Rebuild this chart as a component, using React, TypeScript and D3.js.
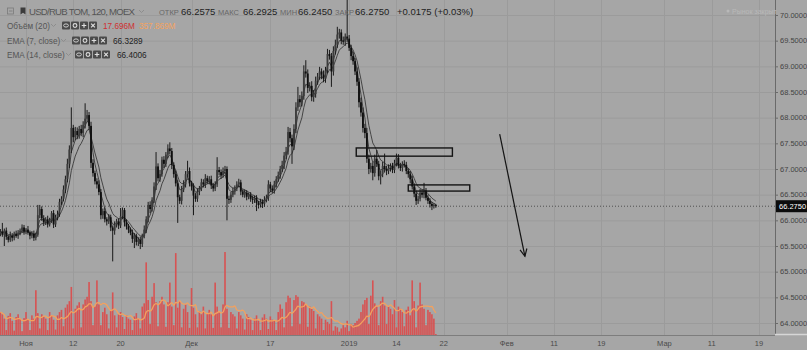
import React from "react";
import * as d3 from "d3";

const W = 807;
const H = 350;

// ---- price data (one bar = quarter of a trading day) ----
const firstOpen = 65.74;
const startDay = -3.25;
const barStep = 0.25;

const closes = [
  65.78, 65.72, 65.80, 65.68, 65.62, 65.70, 65.66, 65.74, 65.70, 65.76,
  65.80, 65.86, 65.78, 65.82, 65.76, 65.70, 65.74, 65.66, 65.72, 66.10,
  66.22, 66.04, 65.96, 66.02, 65.92, 66.00, 66.14, 65.92, 66.06, 66.12,
  66.36, 66.42, 66.60, 66.80, 67.10, 67.38, 67.80, 67.62, 67.74, 67.66,
  67.78, 67.70, 67.86, 67.98, 68.05, 67.84, 67.12, 66.92, 66.76, 66.70,
  66.55, 66.10, 66.18, 66.02, 65.98, 66.06, 65.86, 65.80, 65.92, 65.98,
  65.90, 66.08, 66.20, 65.96, 65.88, 65.82, 65.76, 65.64, 65.70, 65.58,
  65.62, 65.54, 65.70, 65.82, 66.02, 66.30, 66.22, 66.40, 66.66, 67.05,
  66.82, 66.90, 67.18, 67.10, 67.28, 67.40, 67.35, 67.08, 66.90, 66.72,
  66.45, 66.38, 66.60, 66.70, 66.90, 66.96, 66.72, 66.66, 66.48, 66.42,
  66.56, 66.62, 66.74, 66.70, 66.82, 66.76, 66.80, 66.68, 66.62, 66.70,
  66.98, 66.94, 66.88, 66.96, 67.00, 66.42, 66.40, 66.50, 66.56, 66.62,
  66.70, 66.74, 66.56, 66.50, 66.54, 66.46, 66.50, 66.42, 66.40, 66.44,
  66.34, 66.30, 66.36, 66.32, 66.40, 66.44, 66.70, 66.62, 66.58, 66.70,
  66.80, 66.88, 67.00, 67.08, 67.26, 67.34, 67.72, 67.60, 67.44, 67.78,
  68.20, 68.36, 68.30, 68.42, 68.90, 68.86, 68.58, 68.62, 68.40, 68.46,
  68.72, 68.80, 68.90, 68.84, 68.76, 68.92, 69.24, 69.20, 68.90, 69.30,
  69.42, 69.62, 69.66, 69.50, 69.48, 69.58, 69.54, 69.36, 69.20, 69.10,
  68.90, 68.70, 68.30, 68.10, 67.80, 67.70, 67.20, 67.00, 67.06, 66.92,
  67.20, 67.10, 66.86, 66.90, 67.06, 67.00, 66.96, 67.02, 67.06, 66.98,
  67.12, 67.22, 67.06, 67.02, 67.10, 67.08, 66.96, 66.90, 66.80, 66.66,
  66.52, 66.38, 66.42, 66.54, 66.50, 66.58, 66.44, 66.38, 66.32, 66.28, 66.30, 66.275,
];

const wickUp = [
  0.05, 0.17, 0.04, 0.06, 0.03, 0.08, 0.05, 0.04, 0.06, 0.05,
  0.04, 0.06, 0.05, 0.03, 0.07, 0.04, 0.05, 0.06, 0.04, 0.20,
  0.08, 0.05, 0.06, 0.04, 0.07, 0.05, 0.04, 0.06, 0.05, 0.07,
  0.06, 0.05, 0.08, 0.07, 0.10, 0.08, 0.40, 0.06, 0.08, 0.07,
  0.06, 0.08, 0.07, 0.30, 0.10, 0.06, 0.08, 0.07, 0.05, 0.06,
  0.08, 0.06, 0.05, 0.07, 0.04, 0.06, 0.05, 0.04, 0.06, 0.05,
  0.06, 0.16, 0.05, 0.04, 0.06, 0.05, 0.04, 0.06, 0.05, 0.04,
  0.05, 0.06, 0.04, 0.08, 0.06, 0.06, 0.07, 0.05, 0.08, 0.28,
  0.06, 0.08, 0.06, 0.07, 0.05, 0.08, 0.12, 0.06, 0.05, 0.07,
  0.06, 0.05, 0.07, 0.08, 0.06, 0.20, 0.07, 0.05, 0.06, 0.05,
  0.06, 0.05, 0.07, 0.06, 0.08, 0.05, 0.06, 0.07, 0.05, 0.06,
  0.25, 0.06, 0.05, 0.07, 0.06, 0.05, 0.06, 0.05, 0.07, 0.06,
  0.06, 0.07, 0.05, 0.04, 0.06, 0.05, 0.04, 0.05, 0.06, 0.04,
  0.05, 0.04, 0.06, 0.05, 0.07, 0.06, 0.08, 0.05, 0.06, 0.07,
  0.06, 0.07, 0.06, 0.08, 0.07, 0.09, 0.10, 0.08, 0.07, 0.09,
  0.10, 0.24, 0.08, 0.09, 0.12, 0.22, 0.08, 0.07, 0.09, 0.08,
  0.08, 0.07, 0.09, 0.06, 0.08, 0.07, 0.10, 0.08, 0.06, 0.09,
  0.10, 0.15, 0.07, 0.06, 0.08, 0.06, 1.00, 0.07, 0.06, 0.08,
  0.06, 0.08, 0.07, 0.09, 0.10, 0.08, 0.10, 0.08, 0.06, 0.07,
  0.08, 0.17, 0.06, 0.07, 0.08, 0.24, 0.06, 0.07, 0.05, 0.06,
  0.06, 0.08, 0.07, 0.06, 0.05, 0.07, 0.06, 0.05, 0.06, 0.07,
  0.06, 0.05, 0.06, 0.07, 0.06, 0.15, 0.05, 0.06, 0.05, 0.04, 0.03, 0.02,
];

const wickDown = [
  0.05, 0.04, 0.22, 0.06, 0.05, 0.04, 0.07, 0.05, 0.04, 0.06,
  0.05, 0.04, 0.06, 0.05, 0.04, 0.07, 0.05, 0.06, 0.05, 0.04,
  0.06, 0.05, 0.07, 0.05, 0.06, 0.04, 0.05, 0.07, 0.05, 0.06,
  0.05, 0.06, 0.05, 0.07, 0.06, 0.08, 0.07, 0.10, 0.06, 0.08,
  0.07, 0.06, 0.08, 0.07, 0.06, 0.08, 0.10, 0.07, 0.06, 0.08,
  0.06, 0.08, 0.07, 0.06, 0.08, 0.05, 0.07, 0.60, 0.08, 0.06,
  0.07, 0.05, 0.06, 0.08, 0.06, 0.07, 0.05, 0.08, 0.18, 0.07,
  0.08, 0.10, 0.06, 0.05, 0.07, 0.06, 0.08, 0.05, 0.06, 0.07,
  0.06, 0.07, 0.05, 0.08, 0.06, 0.07, 0.06, 0.08, 0.07, 0.06,
  0.50, 0.06, 0.07, 0.05, 0.06, 0.07, 0.06, 0.08, 0.38, 0.06,
  0.06, 0.07, 0.05, 0.06, 0.07, 0.05, 0.06, 0.07, 0.06, 0.05,
  0.05, 0.06, 0.07, 0.05, 0.06, 0.42, 0.08, 0.06, 0.05, 0.06,
  0.05, 0.06, 0.07, 0.05, 0.06, 0.07, 0.05, 0.06, 0.08, 0.06,
  0.16, 0.07, 0.05, 0.08, 0.06, 0.05, 0.06, 0.07, 0.05, 0.06,
  0.06, 0.05, 0.07, 0.06, 0.08, 0.07, 0.06, 0.08, 0.34, 0.07,
  0.08, 0.07, 0.09, 0.08, 0.07, 0.08, 0.10, 0.07, 0.08, 0.09,
  0.07, 0.08, 0.06, 0.09, 0.07, 0.08, 0.06, 0.07, 0.30, 0.08,
  0.07, 0.06, 0.08, 0.07, 0.06, 0.08, 0.07, 0.06, 0.08, 0.07,
  0.07, 0.08, 0.10, 0.08, 0.09, 0.10, 0.08, 0.10, 0.07, 0.14,
  0.07, 0.06, 0.08, 0.16, 0.06, 0.07, 0.08, 0.06, 0.07, 0.06,
  0.06, 0.07, 0.05, 0.06, 0.07, 0.05, 0.06, 0.07, 0.08, 0.06,
  0.07, 0.08, 0.06, 0.05, 0.06, 0.07, 0.05, 0.06, 0.07, 0.08, 0.05, 0.03,
];

// volume in millions
const volumes = [
  420, 380, 300, 90, 350, 400, 260, 80, 330, 380,
  300, 70, 310, 420, 280, 90, 360, 300, 820, 400,
  120, 380, 340, 300, 90, 420, 360, 280, 100, 360,
  420, 460, 160, 500, 560, 620, 880, 120, 480, 540,
  600, 140, 560, 650, 700, 970, 620, 180, 520, 1000,
  560, 180, 420, 500, 380, 120, 440, 780, 360, 140,
  380, 420, 330, 110, 360, 300, 280, 90, 340, 400,
  300, 120, 520, 580, 1330, 640, 200, 700, 950, 600,
  160, 620, 700, 560, 150, 600, 960, 520, 180, 1500,
  500, 620, 140, 480, 560, 420, 130, 860, 500, 380,
  140, 440, 380, 520, 120, 400, 460, 380, 130, 960,
  520, 420, 140, 560, 1520, 480, 130, 420, 380, 340,
  120, 420, 360, 300, 100, 380, 330, 280, 90, 300,
  360, 260, 90, 320, 380, 300, 110, 340, 280, 260,
  90, 420, 560, 480, 140, 600, 720, 680, 160, 640,
  730, 700, 200, 620, 600, 560, 150, 520, 480, 440,
  120, 380, 340, 300, 90, 280, 240, 200, 620, 80,
  160, 140, 60, 120, 180, 140, 260, 70, 200, 180,
  220, 260, 300, 420, 560, 640, 680, 200, 720, 1000,
  580, 520, 180, 620, 700, 540, 200, 520, 480, 380,
  640, 140, 520, 480, 420, 160, 460, 520, 360, 1000,
  620, 140, 540, 960, 560, 480, 180, 460, 420, 380, 300, 17.696,
];

// indicator settings (periods on 2h bars; one bar here = 1.75 of them)
const barsPerSourceBar = 1.75;
const emaFastPeriod = 7;
const emaSlowPeriod = 14;
const volMaPeriod = 20;

// axes
const priceTicks = [64, 64.5, 65, 65.5, 66, 66.5, 67, 67.5, 68, 68.5, 69, 69.5, 70];
const dateTickDays = [0, 6, 12, 21, 31, 41, 47, 53, 61, 67, 73, 81, 87, 93];
const dateTickLabels = ["Ноя", "12", "20", "Дек", "17", "2019", "14", "22", "Фев", "11", "19", "Мар", "11", "19"];
const lastPrice = 66.275;

// drawings
const zoneDays0 = [41.9, 48.5];
const zoneDays1 = [54.1, 56.3];
const zoneTop = [67.41, 66.69];
const zoneBottom = [67.25, 66.57];
const arrowDays = [60.1, 63.3];
const arrowPrices = [67.68, 65.3];

// legend
const symbolTitle = "USD/RUB TOM, 120, MOEX";
const headerLabels = ["ОТКР", "МАКС", "МИН", "ЗАКР"];
const headerValues = ["66.2575", "66.2925", "66.2450", "66.2750"];
const headerChange = "+0.0175 (+0.03%)";
const volumeLegendValues = ["17.696M", "357.869M"];
const emaLegendValues = ["66.3289", "66.4006"];

const BG = "#a6a6a6";
const GRID = "#9b9b9b";

function ema(values: number[], period: number) {
  const a = 2 / (period + 1);
  const out: number[] = [];
  values.forEach((v, i) => out.push(i === 0 ? v : a * v + (1 - a) * out[i - 1]));
  return out;
}
function sma(values: number[], period: number) {
  return values.map((_, i) => {
    const s = values.slice(Math.max(0, i - period + 1), i + 1);
    return d3.mean(s) as number;
  });
}

function Icons({ x, y }: { x: number; y: number }) {
  const s = 8;
  const gap = 9;
  return (
    <g>
      {[0, 1, 2, 3].map((k) => {
        const x0 = x + k * gap;
        const cx = x0 + s / 2;
        const cy = y + s / 2;
        return (
          <g key={k}>
            <rect x={x0} y={y} width={s} height={s} rx={1} fill="#4a4a4a" />
            {k === 0 && <ellipse cx={cx} cy={cy} rx={2.4} ry={1.6} fill="none" stroke="#ddd" strokeWidth={0.9} />}
            {k === 1 && <circle cx={cx} cy={cy} r={1.9} fill="none" stroke="#ddd" strokeWidth={1.1} />}
            {k === 2 && (
              <path d={`M${cx - 2.3},${cy}H${cx + 2.3}M${cx},${cy - 2.3}V${cy + 2.3}`} stroke="#ddd" strokeWidth={1.2} />
            )}
            {k === 3 && (
              <path d={`M${cx - 1.9},${cy - 1.9}L${cx + 1.9},${cy + 1.9}M${cx + 1.9},${cy - 1.9}L${cx - 1.9},${cy + 1.9}`} stroke="#ddd" strokeWidth={1.2} />
            )}
          </g>
        );
      })}
    </g>
  );
}

function Chevron({ x, y }: { x: number; y: number }) {
  return <path d={`M${x},${y}l2.5,2.5l2.5,-2.5`} fill="none" stroke="#8a8a8a" strokeWidth={0.9} />;
}

export default function App() {
  const axisX = 775;
  const plotBottom = 335;
  const x = d3.scaleLinear().domain([0, 93]).range([26, 759]);
  const y = d3.scaleLinear().domain([64, 70]).range([323, 15]);
  const yv = d3.scaleLinear().domain([0, 1520]).range([plotBottom, 252]);

  const bars = closes.map((c, i) => {
    const o = i === 0 ? firstOpen : closes[i - 1];
    const hi = Math.max(o, c) + wickUp[i];
    const lo = Math.min(o, c) - wickDown[i];
    return { day: startDay + i * barStep, o, c, hi, lo, v: volumes[i] };
  });

  const emaFast = ema(closes, emaFastPeriod / barsPerSourceBar);
  const emaSlow = ema(closes, emaSlowPeriod / barsPerSourceBar);
  const volMa = sma(volumes, Math.round(volMaPeriod / barsPerSourceBar));

  const line = d3
    .line<number>()
    .x((_, i) => x(bars[i].day))
    .y((d) => y(d));
  const volLine = d3
    .line<number>()
    .x((_, i) => x(bars[i].day))
    .y((d) => yv(d))
    .curve(d3.curveMonotoneX);

  const font = "'Liberation Sans', Arial, sans-serif";

  // arrow
  const ax0 = x(arrowDays[0]);
  const ay0 = y(arrowPrices[0]);
  const ax1 = x(arrowDays[1]);
  const ay1 = y(arrowPrices[1]);
  const ang = Math.atan2(ay1 - ay0, ax1 - ax0);
  const hl = 8;
  const ha = 0.45;
  const head = `M${ax1 - hl * Math.cos(ang - ha)},${ay1 - hl * Math.sin(ang - ha)}L${ax1},${ay1}L${ax1 - hl * Math.cos(ang + ha)},${ay1 - hl * Math.sin(ang + ha)}`;

  const hdrLabelX = [159, 218, 280, 335];
  const hdrValueX = [181, 243, 298, 355];

  return (
    <svg
      width={W}
      height={H}
      style={{ position: "absolute", left: 0, top: 0, display: "block" }}
      fontFamily={font}
    >
      <rect width={W} height={H} fill={BG} />

      {/* grid */}
      {priceTicks.map((p) => (
        <line key={"h" + p} x1={0} x2={axisX} y1={y(p) + 0.5} y2={y(p) + 0.5} stroke={GRID} strokeWidth={1} />
      ))}
      {dateTickDays.map((d, i) => (
        <line key={"v" + i} x1={Math.round(x(d)) + 0.5} x2={Math.round(x(d)) + 0.5} y1={0} y2={plotBottom} stroke={GRID} strokeWidth={1} />
      ))}

      {/* volume */}
      <g opacity={0.92}>
        {bars.map((b, i) => (
          <rect key={"vb" + i} x={x(b.day) - 0.8} y={yv(b.v)} width={1.6} height={plotBottom - yv(b.v)} fill="#dc4c4c" />
        ))}
      </g>
      <path d={volLine(volMa) || ""} fill="none" stroke="#f3a15e" strokeWidth={1.3} />

      {/* EMA lines */}
      <path d={line(emaSlow) || ""} fill="none" stroke="#3a3a3a" strokeWidth={0.9} />
      <path d={line(emaFast) || ""} fill="none" stroke="#3a3a3a" strokeWidth={0.9} />

      {/* candles */}
      {bars.map((b, i) => {
        const cx = x(b.day);
        const top = y(Math.max(b.o, b.c));
        const bot = y(Math.min(b.o, b.c));
        const up = b.c >= b.o;
        return (
          <g key={"c" + i}>
            <line x1={cx} x2={cx} y1={y(b.hi)} y2={y(b.lo)} stroke="#1a1a1a" strokeWidth={1} />
            <rect x={cx - 0.9} y={top} width={1.8} height={Math.max(1, bot - top)} fill={up ? "#3c3c3c" : "#0e0e0e"} />
          </g>
        );
      })}

      {/* last price line */}
      <line x1={0} x2={axisX} y1={y(lastPrice)} y2={y(lastPrice)} stroke="#3a3a3a" strokeWidth={0.8} strokeDasharray="1,2" />

      {/* drawings */}
      {zoneDays0.map((d0, i) => (
        <rect
          key={"z" + i}
          x={x(d0)}
          y={y(zoneTop[i])}
          width={x(zoneDays1[i]) - x(d0)}
          height={y(zoneBottom[i]) - y(zoneTop[i])}
          fill="none"
          stroke="#141414"
          strokeWidth={1.4}
        />
      ))}
      <line x1={ax0} y1={ay0} x2={ax1} y2={ay1} stroke="#141414" strokeWidth={1.2} />
      <path d={head} fill="none" stroke="#141414" strokeWidth={1.2} />

      {/* right axis */}
      <line x1={axisX + 0.5} x2={axisX + 0.5} y1={0} y2={plotBottom} stroke="#6a6a6a" strokeWidth={1} />
      {priceTicks.map((p) => (
        <g key={"pt" + p}>
          <line x1={axisX} x2={axisX + 3} y1={y(p) + 0.5} y2={y(p) + 0.5} stroke="#6a6a6a" />
          <text x={axisX + 5} y={y(p) + 2.6} fontSize={7.5} fill="#444">
            {p.toFixed(4)}
          </text>
        </g>
      ))}
      <rect x={axisX + 1} y={y(lastPrice) - 6} width={W - axisX - 1} height={12} fill="#0c0c0c" />
      <text x={axisX + 4} y={y(lastPrice) + 2.7} fontSize={7.5} fill="#fff">
        {lastPrice.toFixed(4)}
      </text>

      {/* bottom axis */}
      <line x1={0} x2={axisX} y1={plotBottom + 0.5} y2={plotBottom + 0.5} stroke="#7d7d7d" />
      <line x1={axisX} x2={W} y1={plotBottom - 0.5} y2={plotBottom - 0.5} stroke="#d6d6d6" strokeWidth={1.5} />
      {dateTickDays.map((d, i) => (
        <text key={"dt" + i} x={x(d)} y={346} fontSize={7.5} fill="#4a4a4a" textAnchor="middle">
          {dateTickLabels[i]}
        </text>
      ))}

      {/* market status */}
      <circle cx={728} cy={11} r={1.5} fill="#b9b9b9" />
      <text x={732} y={13.5} fontSize={7} fill="#b9b9b9">
        Рынок закрыт
      </text>

      {/* legend row 1 */}
      <rect x={7.5} y={8} width={6} height={6} fill="none" stroke="#7a7a7a" strokeWidth={0.8} />
      <line x1={9} x2={12.5} y1={11} y2={11} stroke="#7a7a7a" strokeWidth={0.8} />
      <path d="M20.5,7.5h5v7l-2.5,-1.8l-2.5,1.8z" fill="#3c3c3c" />
      <text x={29} y={15} fontSize={9.6} fill="#555" textLength={106} lengthAdjust="spacing">
        {symbolTitle}
      </text>
      <Chevron x={139} y={10} />
      <text y={15}>
        {headerLabels.map((l, i) => (
          <React.Fragment key={"hl" + i}>
            <tspan x={hdrLabelX[i]} fontSize={7.5} fill="#666">
              {l}
            </tspan>
            <tspan x={hdrValueX[i]} fontSize={9.5} fill="#222">
              {headerValues[i]}
            </tspan>
          </React.Fragment>
        ))}
        <tspan x={397} fontSize={9.5} fill="#222">
          {headerChange}
        </tspan>
      </text>

      {/* legend row 2 */}
      <text x={7} y={29} fontSize={8.2} fill="#555">
        Объём (20)
      </text>
      <Chevron x={51} y={24} />
      <Icons x={62} y={21.5} />
      <text x={103} y={29} fontSize={8.2} fill="#d03030">
        {volumeLegendValues[0]}
      </text>
      <text x={139} y={29} fontSize={8.2} fill="#f4a35e">
        {volumeLegendValues[1]}
      </text>

      {/* legend row 3 */}
      <text x={7} y={44} fontSize={8.2} fill="#555">
        EMA (7, close)
      </text>
      <Chevron x={61} y={39} />
      <Icons x={72} y={36.5} />
      <text x={113} y={44} fontSize={8.2} fill="#222">
        {emaLegendValues[0]}
      </text>

      {/* legend row 4 */}
      <text x={7} y={58} fontSize={8.2} fill="#555">
        EMA (14, close)
      </text>
      <Chevron x={66} y={53} />
      <Icons x={75} y={50.5} />
      <text x={117} y={58} fontSize={8.2} fill="#222">
        {emaLegendValues[1]}
      </text>
    </svg>
  );
}
